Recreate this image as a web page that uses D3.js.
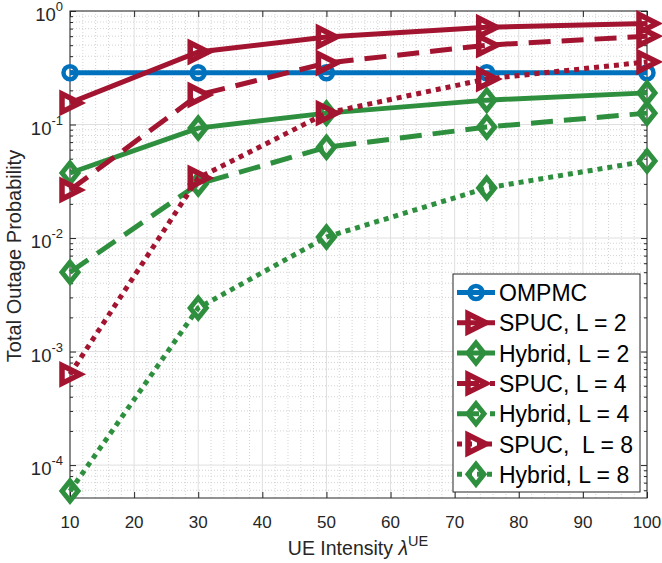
<!DOCTYPE html>
<html>
<head>
<meta charset="utf-8">
<script src="https://d3js.org/d3.v7.min.js"></script>
<style>
    body { margin: 0; background: white; }
    text { font-family: "Liberation Sans", Arial, sans-serif; fill: #262626; }
</style>
</head>
<body>
<svg id="chart" width="662" height="563"></svg>
<script>

// UE intensity values
var lambdaUE = [10, 30, 50, 75, 100];

// total outage probability
var ompmc    = [0.286, 0.286, 0.286, 0.286, 0.286];
var spucL2   = [0.155, 0.435, 0.59, 0.72, 0.776];
var hybridL2 = [0.0374, 0.093, 0.126, 0.164, 0.19];
var spucL4   = [0.0265, 0.182, 0.348, 0.50, 0.60];
var hybridL4 = [0.005, 0.0299, 0.063, 0.095, 0.126];
var spucL8   = [0.00063, 0.0338, 0.126, 0.252, 0.356];
var hybridL8 = [0.000059, 0.00242, 0.0102, 0.0276, 0.0477];

var xTicks = [10, 20, 30, 40, 50, 60, 70, 80, 90, 100];
var yTicks = [-4, -3, -2, -1, 0];   // exponents

var blue = "#0072BD", red = "#A2142F", green = "#2E8F3E";

var series = [
    {name: "OMPMC",          values: ompmc,    color: blue,  dash: null,  marker: "circle"},
    {name: "SPUC, L = 2",    values: spucL2,   color: red,   dash: null,  marker: "tri"},
    {name: "Hybrid, L = 2",  values: hybridL2, color: green, dash: null,  marker: "diamond"},
    {name: "SPUC, L = 4",    values: spucL4,   color: red,   dash: "22,11", marker: "tri"},
    {name: "Hybrid, L = 4",  values: hybridL4, color: green, dash: "22,11", marker: "diamond"},
    {name: "SPUC,  L = 8",   values: spucL8,   color: red,   dash: "5,5", marker: "tri"},
    {name: "Hybrid, L = 8",  values: hybridL8, color: green, dash: "5,5", marker: "diamond"}
];

var svg = d3.select("#chart");
var pl = 70, pr = 647, pt = 11, pb = 498;

var x = d3.scaleLinear().domain([10, 100]).range([pl, pr]);
var y = d3.scaleLog().domain([Math.pow(10, -4.29), 1]).range([pb, pt]);

// minor grid
var xMinor = d3.range(10, 100.01, 2).filter(function(v) { return v % 10 != 0; });
var yMinor = [];
for (var e = -5; e < 0; e++) {
    for (var k = 2; k < 10; k++) {
        var v = k * Math.pow(10, e);
        if (v > y.domain()[0]) yMinor.push(v);
    }
}

var grid = svg.append("g");
grid.selectAll(".xm").data(xMinor).enter().append("line")
    .attr("x1", d => x(d)).attr("x2", d => x(d))
    .attr("y1", pt).attr("y2", pb)
    .attr("stroke", "#c8c8c8").attr("stroke-width", 0.8).attr("stroke-dasharray", "1,2");
grid.selectAll(".ym").data(yMinor).enter().append("line")
    .attr("x1", pl).attr("x2", pr)
    .attr("y1", d => y(d)).attr("y2", d => y(d))
    .attr("stroke", "#c8c8c8").attr("stroke-width", 0.8).attr("stroke-dasharray", "1,2");
grid.selectAll(".xg").data(xTicks).enter().append("line")
    .attr("x1", d => x(d)).attr("x2", d => x(d))
    .attr("y1", pt).attr("y2", pb)
    .attr("stroke", "#dfdfdf").attr("stroke-width", 1);
grid.selectAll(".yg").data(yTicks).enter().append("line")
    .attr("x1", pl).attr("x2", pr)
    .attr("y1", d => y(Math.pow(10, d))).attr("y2", d => y(Math.pow(10, d)))
    .attr("stroke", "#dfdfdf").attr("stroke-width", 1);

// axes (box with inward ticks)
var axisColor = "#262626";
svg.append("g").attr("transform", "translate(0," + pb + ")")
    .call(d3.axisBottom(x).tickValues(xTicks).tickSize(-6).tickFormat(""));
svg.append("g").attr("transform", "translate(0," + pt + ")")
    .call(d3.axisTop(x).tickValues(xTicks).tickSize(-6).tickFormat(""));
var yMajor = yTicks.map(d => Math.pow(10, d));
svg.append("g").attr("transform", "translate(" + pl + ",0)")
    .call(d3.axisLeft(y).tickValues(yMajor).tickSize(-6).tickFormat(""));
svg.append("g").attr("transform", "translate(" + pr + ",0)")
    .call(d3.axisRight(y).tickValues(yMajor).tickSize(-6).tickFormat(""));
svg.append("g").attr("transform", "translate(" + pl + ",0)")
    .call(d3.axisLeft(y).tickValues(yMinor).tickSize(-3).tickFormat(""));
svg.append("g").attr("transform", "translate(" + pr + ",0)")
    .call(d3.axisRight(y).tickValues(yMinor).tickSize(-3).tickFormat(""));
svg.selectAll(".domain").remove();
svg.selectAll(".tick line").attr("stroke", axisColor);
svg.append("rect").attr("x", pl).attr("y", pt)
    .attr("width", pr - pl).attr("height", pb - pt)
    .attr("fill", "none").attr("stroke", axisColor).attr("stroke-width", 1);

// tick labels
svg.selectAll(".xl").data(xTicks).enter().append("text")
    .attr("x", d => x(d)).attr("y", pb + 30)
    .attr("text-anchor", "middle").style("font-size", "17px")
    .text(d => d);
var yl = svg.selectAll(".yl").data(yTicks).enter().append("text")
    .attr("x", 63).attr("y", d => y(Math.pow(10, d)) + 10)
    .attr("text-anchor", "end").style("font-size", "18.5px");
yl.append("tspan").text("10");
yl.append("tspan").attr("dy", -10).style("font-size", "13px").text(d => d);

// axis labels
var xlab = svg.append("text").attr("x", 358).attr("y", 555)
    .attr("text-anchor", "middle").style("font-size", "19.5px");
xlab.append("tspan").text("UE Intensity ");
xlab.append("tspan").style("font-style", "italic").text("\u03bb");
xlab.append("tspan").attr("dy", -9).style("font-size", "14.5px").text("UE");
svg.append("text")
    .attr("transform", "translate(21," + 256 + ") rotate(-90)")
    .attr("text-anchor", "middle").style("font-size", "20px")
    .text("Total Outage Probability");

// markers
function drawMarker(g, type, cx, cy, color) {
    if (type == "circle") {
        g.append("circle").attr("cx", cx).attr("cy", cy).attr("r", 6.5)
            .attr("fill", "none").attr("stroke", color).attr("stroke-width", 4.5);
    } else if (type == "tri") {
        g.append("path")
            .attr("d", "M" + (cx - 8) + "," + (cy - 9) + "L" + (cx + 10) + "," + cy + "L" + (cx - 8) + "," + (cy + 9) + "Z")
            .attr("fill", "none").attr("stroke", color).attr("stroke-width", 5.5)
            .attr("stroke-linejoin", "miter");
    } else {
        g.append("path")
            .attr("d", "M" + cx + "," + (cy - 10) + "L" + (cx + 8) + "," + cy + "L" + cx + "," + (cy + 10) + "L" + (cx - 8) + "," + cy + "Z")
            .attr("fill", "none").attr("stroke", color).attr("stroke-width", 5);
    }
}

var line = d3.line().x(d => x(d[0])).y(d => y(d[1]));

series.forEach(function(s) {
    var g = svg.append("g");
    var pts = lambdaUE.map((v, i) => [v, s.values[i]]);
    g.append("path").datum(pts).attr("d", line)
        .attr("fill", "none").attr("stroke", s.color).attr("stroke-width", 5)
        .attr("stroke-dasharray", s.dash);
    pts.forEach(function(p) { drawMarker(g, s.marker, x(p[0]), y(p[1]), s.color); });
});

// legend
var lg = svg.append("g");
lg.append("rect").attr("x", 453).attr("y", 274).attr("width", 187).attr("height", 218)
    .attr("fill", "white").attr("stroke", axisColor).attr("stroke-width", 1);
series.forEach(function(s, i) {
    var cy = 292.5 + i * 30.3;
    lg.append("line").attr("x1", 457).attr("x2", 495).attr("y1", cy).attr("y2", cy)
        .attr("stroke", s.color).attr("stroke-width", 5).attr("stroke-dasharray", s.dash);
    drawMarker(lg, s.marker, 476, cy, s.color);
    lg.append("text").attr("x", 499).attr("y", cy + 8.5)
        .style("font-size", "23px").style("fill", "black")
        .attr("xml:space", "preserve")
        .text(s.name);
});

</script>
</body>
</html>
